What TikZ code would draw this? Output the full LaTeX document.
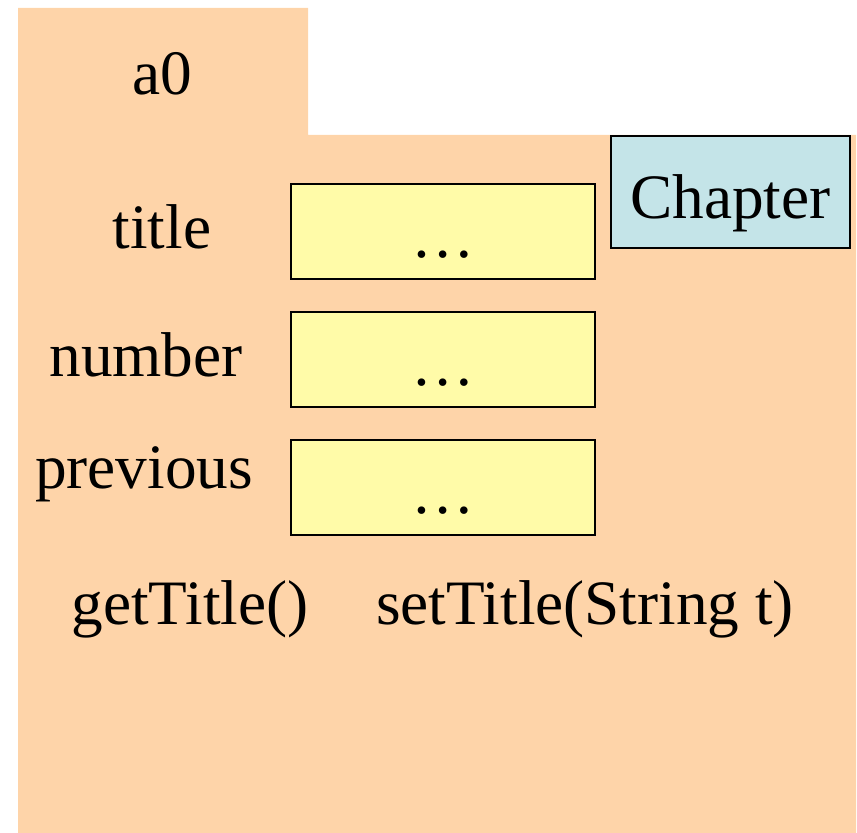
\documentclass[tikz,border=0pt]{standalone}
\usepackage{fontspec}
\setmainfont{Liberation Serif}

\definecolor{objpeach}{RGB}{254,212,169}
\definecolor{fieldyellow}{RGB}{255,251,168}
\definecolor{classblue}{RGB}{196,228,232}

\begin{document}
\begin{tikzpicture}[
		every node/.style={font=\fontsize{36}{43}\selectfont},
		field/.style={draw, line width=0.9pt, fill=fieldyellow, minimum width=6.08cm, minimum height=1.9cm, text height=1.06cm, text depth=0pt, inner sep=0pt},
		tag/.style={anchor=base}
		]
		\useasboundingbox (0,0) rectangle (17.14,16.66);
		
		% Object folder with its tab
		\fill[objpeach] (0.36,0) -- (0.36,16.5) -- (6.16,16.5) -- (6.16,13.96) -- (17.12,13.96) -- (17.12,0) -- cycle;
		\node[tag] (name) at (3.24,14.76) {a0};
		
		% Class of the object
		\node[draw, line width=1.3pt, fill=classblue, minimum width=4.78cm, minimum height=2.24cm, text height=1.06cm, text depth=0pt, inner sep=0pt] (class) at (14.61,12.82) {Chapter};
		
		% Fields and their values
		\foreach \i/\label/\x/\y/\ly in {1/title/3.24/12.03/11.68, 2/number/2.92/9.47/9.12, 3/previous/2.88/6.91/6.88}
		{
			\node[tag] (label\i) at (\x,\ly) {\label};
			\node[field] (field\i) at (8.86,\y) {\ldots};
		}
		
		% Methods
		\node[tag] (getter) at (3.80,4.16) {getTitle()};
		\node[tag] (setter) at (11.70,4.16) {setTitle(String t)};
		
\end{tikzpicture}
\end{document}
